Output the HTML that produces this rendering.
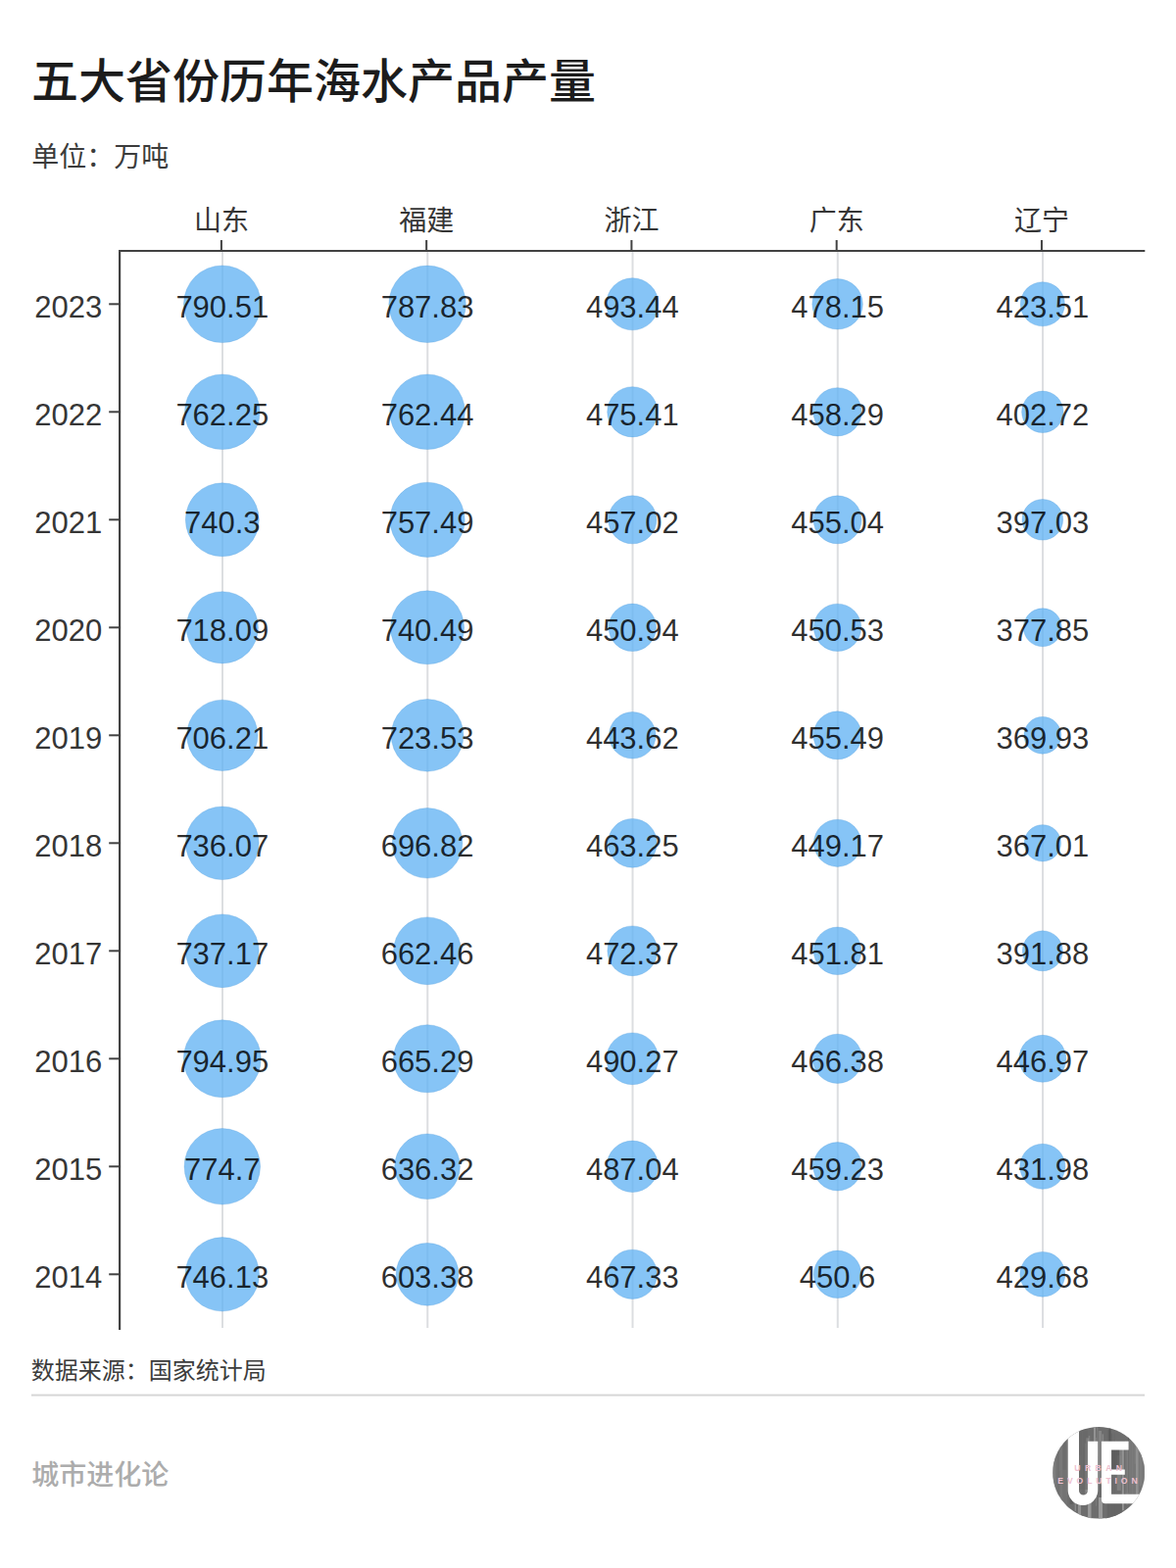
<!DOCTYPE html>
<html lang="zh-CN">
<head>
<meta charset="utf-8">
<title>五大省份历年海水产品产量</title>
<style>
html,body{margin:0;padding:0;background:#fff;}
body{width:1200px;height:1600px;overflow:hidden;font-family:"Liberation Sans",sans-serif;}
svg{display:block;}
svg text{font-family:"Liberation Sans","Noto Sans CJK SC",sans-serif;}
</style>
</head>
<body>
<svg width="1200" height="1600" viewBox="0 0 1200 1600" role="img" aria-label="五大省份历年海水产品产量">
<rect width="1200" height="1600" fill="#fff"/>
<text x="32" y="100.12" font-size="48" font-weight="500" fill="#1c1c1c">五大省份历年海水产品产量</text>
<text x="32.36" y="170.45" font-size="28" fill="#3c3c3c">单位：万吨</text>
<rect x="226" y="257" width="2" height="1098" fill="#dcdee1"/>
<rect x="435.26" y="257" width="2" height="1098" fill="#dcdee1"/>
<rect x="644.52" y="257" width="2" height="1098" fill="#dcdee1"/>
<rect x="853.78" y="257" width="2" height="1098" fill="#dcdee1"/>
<rect x="1063.04" y="257" width="2" height="1098" fill="#dcdee1"/>
<circle cx="226.8" cy="310.3" r="39.32" fill="#62b2f3" fill-opacity="0.77" stroke="#4a98dc" stroke-opacity="0.3" stroke-width="1"/>
<circle cx="436.06" cy="310.3" r="39.22" fill="#62b2f3" fill-opacity="0.77" stroke="#4a98dc" stroke-opacity="0.3" stroke-width="1"/>
<circle cx="645.32" cy="310.3" r="26.56" fill="#62b2f3" fill-opacity="0.77" stroke="#4a98dc" stroke-opacity="0.3" stroke-width="1"/>
<circle cx="854.58" cy="310.3" r="25.74" fill="#62b2f3" fill-opacity="0.77" stroke="#4a98dc" stroke-opacity="0.3" stroke-width="1"/>
<circle cx="1063.84" cy="310.3" r="22.54" fill="#62b2f3" fill-opacity="0.77" stroke="#4a98dc" stroke-opacity="0.3" stroke-width="1"/>
<circle cx="226.8" cy="420.3" r="38.29" fill="#62b2f3" fill-opacity="0.77" stroke="#4a98dc" stroke-opacity="0.3" stroke-width="1"/>
<circle cx="436.06" cy="420.3" r="38.3" fill="#62b2f3" fill-opacity="0.77" stroke="#4a98dc" stroke-opacity="0.3" stroke-width="1"/>
<circle cx="645.32" cy="420.3" r="25.59" fill="#62b2f3" fill-opacity="0.77" stroke="#4a98dc" stroke-opacity="0.3" stroke-width="1"/>
<circle cx="854.58" cy="420.3" r="24.62" fill="#62b2f3" fill-opacity="0.77" stroke="#4a98dc" stroke-opacity="0.3" stroke-width="1"/>
<circle cx="1063.84" cy="420.3" r="21.19" fill="#62b2f3" fill-opacity="0.77" stroke="#4a98dc" stroke-opacity="0.3" stroke-width="1"/>
<circle cx="226.8" cy="530.3" r="37.47" fill="#62b2f3" fill-opacity="0.77" stroke="#4a98dc" stroke-opacity="0.3" stroke-width="1"/>
<circle cx="436.06" cy="530.3" r="38.11" fill="#62b2f3" fill-opacity="0.77" stroke="#4a98dc" stroke-opacity="0.3" stroke-width="1"/>
<circle cx="645.32" cy="530.3" r="24.55" fill="#62b2f3" fill-opacity="0.77" stroke="#4a98dc" stroke-opacity="0.3" stroke-width="1"/>
<circle cx="854.58" cy="530.3" r="24.44" fill="#62b2f3" fill-opacity="0.77" stroke="#4a98dc" stroke-opacity="0.3" stroke-width="1"/>
<circle cx="1063.84" cy="530.3" r="20.81" fill="#62b2f3" fill-opacity="0.77" stroke="#4a98dc" stroke-opacity="0.3" stroke-width="1"/>
<circle cx="226.8" cy="640.3" r="36.62" fill="#62b2f3" fill-opacity="0.77" stroke="#4a98dc" stroke-opacity="0.3" stroke-width="1"/>
<circle cx="436.06" cy="640.3" r="37.48" fill="#62b2f3" fill-opacity="0.77" stroke="#4a98dc" stroke-opacity="0.3" stroke-width="1"/>
<circle cx="645.32" cy="640.3" r="24.2" fill="#62b2f3" fill-opacity="0.77" stroke="#4a98dc" stroke-opacity="0.3" stroke-width="1"/>
<circle cx="854.58" cy="640.3" r="24.17" fill="#62b2f3" fill-opacity="0.77" stroke="#4a98dc" stroke-opacity="0.3" stroke-width="1"/>
<circle cx="1063.84" cy="640.3" r="19.46" fill="#62b2f3" fill-opacity="0.77" stroke="#4a98dc" stroke-opacity="0.3" stroke-width="1"/>
<circle cx="226.8" cy="750.3" r="36.16" fill="#62b2f3" fill-opacity="0.77" stroke="#4a98dc" stroke-opacity="0.3" stroke-width="1"/>
<circle cx="436.06" cy="750.3" r="36.83" fill="#62b2f3" fill-opacity="0.77" stroke="#4a98dc" stroke-opacity="0.3" stroke-width="1"/>
<circle cx="645.32" cy="750.3" r="23.77" fill="#62b2f3" fill-opacity="0.77" stroke="#4a98dc" stroke-opacity="0.3" stroke-width="1"/>
<circle cx="854.58" cy="750.3" r="24.46" fill="#62b2f3" fill-opacity="0.77" stroke="#4a98dc" stroke-opacity="0.3" stroke-width="1"/>
<circle cx="1063.84" cy="750.3" r="18.88" fill="#62b2f3" fill-opacity="0.77" stroke="#4a98dc" stroke-opacity="0.3" stroke-width="1"/>
<circle cx="226.8" cy="860.3" r="37.31" fill="#62b2f3" fill-opacity="0.77" stroke="#4a98dc" stroke-opacity="0.3" stroke-width="1"/>
<circle cx="436.06" cy="860.3" r="35.79" fill="#62b2f3" fill-opacity="0.77" stroke="#4a98dc" stroke-opacity="0.3" stroke-width="1"/>
<circle cx="645.32" cy="860.3" r="24.91" fill="#62b2f3" fill-opacity="0.77" stroke="#4a98dc" stroke-opacity="0.3" stroke-width="1"/>
<circle cx="854.58" cy="860.3" r="24.09" fill="#62b2f3" fill-opacity="0.77" stroke="#4a98dc" stroke-opacity="0.3" stroke-width="1"/>
<circle cx="1063.84" cy="860.3" r="18.66" fill="#62b2f3" fill-opacity="0.77" stroke="#4a98dc" stroke-opacity="0.3" stroke-width="1"/>
<circle cx="226.8" cy="970.3" r="37.35" fill="#62b2f3" fill-opacity="0.77" stroke="#4a98dc" stroke-opacity="0.3" stroke-width="1"/>
<circle cx="436.06" cy="970.3" r="34.41" fill="#62b2f3" fill-opacity="0.77" stroke="#4a98dc" stroke-opacity="0.3" stroke-width="1"/>
<circle cx="645.32" cy="970.3" r="25.42" fill="#62b2f3" fill-opacity="0.77" stroke="#4a98dc" stroke-opacity="0.3" stroke-width="1"/>
<circle cx="854.58" cy="970.3" r="24.25" fill="#62b2f3" fill-opacity="0.77" stroke="#4a98dc" stroke-opacity="0.3" stroke-width="1"/>
<circle cx="1063.84" cy="970.3" r="20.46" fill="#62b2f3" fill-opacity="0.77" stroke="#4a98dc" stroke-opacity="0.3" stroke-width="1"/>
<circle cx="226.8" cy="1080.3" r="39.48" fill="#62b2f3" fill-opacity="0.77" stroke="#4a98dc" stroke-opacity="0.3" stroke-width="1"/>
<circle cx="436.06" cy="1080.3" r="34.52" fill="#62b2f3" fill-opacity="0.77" stroke="#4a98dc" stroke-opacity="0.3" stroke-width="1"/>
<circle cx="645.32" cy="1080.3" r="26.4" fill="#62b2f3" fill-opacity="0.77" stroke="#4a98dc" stroke-opacity="0.3" stroke-width="1"/>
<circle cx="854.58" cy="1080.3" r="25.08" fill="#62b2f3" fill-opacity="0.77" stroke="#4a98dc" stroke-opacity="0.3" stroke-width="1"/>
<circle cx="1063.84" cy="1080.3" r="23.96" fill="#62b2f3" fill-opacity="0.77" stroke="#4a98dc" stroke-opacity="0.3" stroke-width="1"/>
<circle cx="226.8" cy="1190.3" r="38.75" fill="#62b2f3" fill-opacity="0.77" stroke="#4a98dc" stroke-opacity="0.3" stroke-width="1"/>
<circle cx="436.06" cy="1190.3" r="33.31" fill="#62b2f3" fill-opacity="0.77" stroke="#4a98dc" stroke-opacity="0.3" stroke-width="1"/>
<circle cx="645.32" cy="1190.3" r="26.22" fill="#62b2f3" fill-opacity="0.77" stroke="#4a98dc" stroke-opacity="0.3" stroke-width="1"/>
<circle cx="854.58" cy="1190.3" r="24.68" fill="#62b2f3" fill-opacity="0.77" stroke="#4a98dc" stroke-opacity="0.3" stroke-width="1"/>
<circle cx="1063.84" cy="1190.3" r="23.06" fill="#62b2f3" fill-opacity="0.77" stroke="#4a98dc" stroke-opacity="0.3" stroke-width="1"/>
<circle cx="226.8" cy="1300.3" r="37.69" fill="#62b2f3" fill-opacity="0.77" stroke="#4a98dc" stroke-opacity="0.3" stroke-width="1"/>
<circle cx="436.06" cy="1300.3" r="31.89" fill="#62b2f3" fill-opacity="0.77" stroke="#4a98dc" stroke-opacity="0.3" stroke-width="1"/>
<circle cx="645.32" cy="1300.3" r="25.14" fill="#62b2f3" fill-opacity="0.77" stroke="#4a98dc" stroke-opacity="0.3" stroke-width="1"/>
<circle cx="854.58" cy="1300.3" r="24.18" fill="#62b2f3" fill-opacity="0.77" stroke="#4a98dc" stroke-opacity="0.3" stroke-width="1"/>
<circle cx="1063.84" cy="1300.3" r="22.92" fill="#62b2f3" fill-opacity="0.77" stroke="#4a98dc" stroke-opacity="0.3" stroke-width="1"/>
<rect x="121" y="255" width="1047.3" height="2" fill="#424242"/>
<rect x="121" y="255" width="2.2" height="1102" fill="#424242"/>
<rect x="224.9" y="245" width="2" height="10" fill="#424242"/>
<rect x="434.16" y="245" width="2" height="10" fill="#424242"/>
<rect x="643.42" y="245" width="2" height="10" fill="#424242"/>
<rect x="852.68" y="245" width="2" height="10" fill="#424242"/>
<rect x="1061.94" y="245" width="2" height="10" fill="#424242"/>
<rect x="111.2" y="309.3" width="10" height="2" fill="#424242"/>
<rect x="111.2" y="419.3" width="10" height="2" fill="#424242"/>
<rect x="111.2" y="529.3" width="10" height="2" fill="#424242"/>
<rect x="111.2" y="639.3" width="10" height="2" fill="#424242"/>
<rect x="111.2" y="749.3" width="10" height="2" fill="#424242"/>
<rect x="111.2" y="859.3" width="10" height="2" fill="#424242"/>
<rect x="111.2" y="969.3" width="10" height="2" fill="#424242"/>
<rect x="111.2" y="1079.3" width="10" height="2" fill="#424242"/>
<rect x="111.2" y="1189.3" width="10" height="2" fill="#424242"/>
<rect x="111.2" y="1299.3" width="10" height="2" fill="#424242"/>
<g fill="#363636" font-size="28" text-anchor="middle">
<text x="225.9" y="234.5">山东</text>
<text x="435.16" y="234.5">福建</text>
<text x="644.42" y="234.5">浙江</text>
<text x="853.68" y="234.5">广东</text>
<text x="1062.94" y="234.5">辽宁</text>
</g>
<g fill="#363636" font-size="31">
<text x="35.3" y="323.7">2023</text>
<text x="35.3" y="433.7">2022</text>
<text x="35.3" y="543.7">2021</text>
<text x="35.3" y="653.7">2020</text>
<text x="35.3" y="763.7">2019</text>
<text x="35.3" y="873.7">2018</text>
<text x="35.3" y="983.7">2017</text>
<text x="35.3" y="1093.7">2016</text>
<text x="35.3" y="1203.7">2015</text>
<text x="35.3" y="1313.7">2014</text>
</g>
<g fill="#000" fill-opacity="0.82" font-size="31" text-anchor="middle">
<text x="226.8" y="323.6">790.51</text>
<text x="436.06" y="323.6">787.83</text>
<text x="645.32" y="323.6">493.44</text>
<text x="854.58" y="323.6">478.15</text>
<text x="1063.84" y="323.6">423.51</text>
<text x="226.8" y="433.6">762.25</text>
<text x="436.06" y="433.6">762.44</text>
<text x="645.32" y="433.6">475.41</text>
<text x="854.58" y="433.6">458.29</text>
<text x="1063.84" y="433.6">402.72</text>
<text x="226.8" y="543.6">740.3</text>
<text x="436.06" y="543.6">757.49</text>
<text x="645.32" y="543.6">457.02</text>
<text x="854.58" y="543.6">455.04</text>
<text x="1063.84" y="543.6">397.03</text>
<text x="226.8" y="653.6">718.09</text>
<text x="436.06" y="653.6">740.49</text>
<text x="645.32" y="653.6">450.94</text>
<text x="854.58" y="653.6">450.53</text>
<text x="1063.84" y="653.6">377.85</text>
<text x="226.8" y="763.6">706.21</text>
<text x="436.06" y="763.6">723.53</text>
<text x="645.32" y="763.6">443.62</text>
<text x="854.58" y="763.6">455.49</text>
<text x="1063.84" y="763.6">369.93</text>
<text x="226.8" y="873.6">736.07</text>
<text x="436.06" y="873.6">696.82</text>
<text x="645.32" y="873.6">463.25</text>
<text x="854.58" y="873.6">449.17</text>
<text x="1063.84" y="873.6">367.01</text>
<text x="226.8" y="983.6">737.17</text>
<text x="436.06" y="983.6">662.46</text>
<text x="645.32" y="983.6">472.37</text>
<text x="854.58" y="983.6">451.81</text>
<text x="1063.84" y="983.6">391.88</text>
<text x="226.8" y="1093.6">794.95</text>
<text x="436.06" y="1093.6">665.29</text>
<text x="645.32" y="1093.6">490.27</text>
<text x="854.58" y="1093.6">466.38</text>
<text x="1063.84" y="1093.6">446.97</text>
<text x="226.8" y="1203.6">774.7</text>
<text x="436.06" y="1203.6">636.32</text>
<text x="645.32" y="1203.6">487.04</text>
<text x="854.58" y="1203.6">459.23</text>
<text x="1063.84" y="1203.6">431.98</text>
<text x="226.8" y="1313.6">746.13</text>
<text x="436.06" y="1313.6">603.38</text>
<text x="645.32" y="1313.6">467.33</text>
<text x="854.58" y="1313.6">450.6</text>
<text x="1063.84" y="1313.6">429.68</text>
</g>
<text x="31.79" y="1407.36" font-size="24" fill="#3c3c3c">数据来源：国家统计局</text>
<rect x="32" y="1422.6" width="1136" height="2" fill="#d6d6d6"/>
<text x="32.21" y="1515.32" font-size="28" font-weight="500" fill="#acacac">城市进化论</text>
<defs><clipPath id="lc"><circle cx="1121.15" cy="1502.8" r="46.9"/></clipPath></defs>
<g clip-path="url(#lc)" aria-label="UE Urban Evolution">
<rect x="1074.25" y="1455.9" width="93.8" height="93.8" fill="#6d6d6d"/>
<rect x="1074.25" y="1481.61" width="3" height="79.84" fill="#848484" opacity="0.68"/>
<rect x="1079.25" y="1480.02" width="1.5" height="60.35" fill="#626262" opacity="0.75"/>
<rect x="1080.75" y="1465" width="1" height="35.78" fill="#7c7c7c" opacity="0.82"/>
<rect x="1081.75" y="1475.52" width="2.5" height="69.27" fill="#7c7c7c" opacity="0.56"/>
<rect x="1084.25" y="1457.69" width="4" height="42.14" fill="#5e5e5e" opacity="0.6"/>
<rect x="1088.25" y="1469.12" width="3" height="83.75" fill="#707070" opacity="0.71"/>
<rect x="1091.75" y="1475.77" width="3" height="59.18" fill="#585858" opacity="0.61"/>
<rect x="1096.75" y="1463.52" width="1" height="78.36" fill="#a4a4a4" opacity="0.71"/>
<rect x="1097.75" y="1478.89" width="1" height="55.55" fill="#8e8e8e" opacity="0.84"/>
<rect x="1099.75" y="1481.32" width="1" height="30.03" fill="#585858" opacity="0.58"/>
<rect x="1100.75" y="1485.31" width="3" height="55.36" fill="#767676" opacity="0.53"/>
<rect x="1103.75" y="1458.51" width="1.5" height="51.22" fill="#707070" opacity="0.89"/>
<rect x="1105.25" y="1477.11" width="1" height="30.7" fill="#666666" opacity="0.69"/>
<rect x="1107.25" y="1472.68" width="1" height="58.55" fill="#989898" opacity="0.58"/>
<rect x="1108.25" y="1467.41" width="2.5" height="55.19" fill="#989898" opacity="0.9"/>
<rect x="1110.75" y="1465.02" width="1.5" height="86.45" fill="#8e8e8e" opacity="0.58"/>
<rect x="1113.25" y="1485.58" width="1" height="43.6" fill="#585858" opacity="0.6"/>
<rect x="1116.25" y="1467.49" width="2" height="34.74" fill="#6a6a6a" opacity="0.58"/>
<rect x="1118.25" y="1466.96" width="0.8" height="69.69" fill="#8e8e8e" opacity="0.55"/>
<rect x="1121.05" y="1459.97" width="3" height="54.63" fill="#8e8e8e" opacity="0.75"/>
<rect x="1124.55" y="1463.38" width="1.5" height="42.11" fill="#8e8e8e" opacity="0.8"/>
<rect x="1128.05" y="1484.4" width="1.5" height="86.28" fill="#989898" opacity="0.74"/>
<rect x="1130.55" y="1459.17" width="0.8" height="62.69" fill="#5e5e5e" opacity="0.6"/>
<rect x="1132.35" y="1480.61" width="1.5" height="68.05" fill="#767676" opacity="0.62"/>
<rect x="1133.85" y="1462.75" width="1" height="65.69" fill="#626262" opacity="0.84"/>
<rect x="1136.85" y="1462.27" width="1" height="88.37" fill="#6a6a6a" opacity="0.8"/>
<rect x="1137.85" y="1469.27" width="1.5" height="33.86" fill="#767676" opacity="0.57"/>
<rect x="1139.85" y="1485.09" width="4" height="35.88" fill="#8e8e8e" opacity="0.56"/>
<rect x="1144.85" y="1477.89" width="2" height="63.3" fill="#989898" opacity="0.88"/>
<rect x="1148.85" y="1470.14" width="0.8" height="52.81" fill="#585858" opacity="0.62"/>
<rect x="1149.65" y="1474.99" width="0.8" height="60.77" fill="#8e8e8e" opacity="0.79"/>
<rect x="1150.95" y="1458.16" width="1" height="64.84" fill="#5e5e5e" opacity="0.79"/>
<rect x="1151.95" y="1458.45" width="2" height="60.2" fill="#707070" opacity="0.53"/>
<rect x="1154.95" y="1473.08" width="0.8" height="69.87" fill="#7c7c7c" opacity="0.65"/>
<rect x="1157.75" y="1458.07" width="0.8" height="35.78" fill="#8e8e8e" opacity="0.55"/>
<rect x="1159.05" y="1465.8" width="2.5" height="89.61" fill="#a4a4a4" opacity="0.78"/>
<rect x="1162.55" y="1481.05" width="3" height="35.35" fill="#7c7c7c" opacity="0.8"/>
<rect x="1165.55" y="1458.53" width="1.5" height="31.42" fill="#8e8e8e" opacity="0.88"/>
<rect x="1167.05" y="1475.7" width="3" height="61.03" fill="#8e8e8e" opacity="0.86"/>
<rect x="1116" y="1456" width="2" height="40" fill="#9c9c9c" opacity="0.8"/>
<rect x="1119.3" y="1456" width="1" height="30" fill="#8c8c8c" opacity="0.7"/>
<rect x="1131.5" y="1456" width="2" height="45" fill="#525252" opacity="0.8"/>
<rect x="1134.1" y="1479.4" width="9" height="20" fill="#5a5a5a" opacity="0.75"/>
<rect x="1100" y="1532" width="3" height="20" fill="#9a9a9a" opacity="0.8"/>
<rect x="1110" y="1530" width="3.5" height="20" fill="#a2a2a2" opacity="0.8"/>
<rect x="1121" y="1528" width="4" height="22" fill="#a4a4a4" opacity="0.8"/>
<rect x="1128" y="1534" width="17" height="16" fill="#636363" opacity="0.7"/>
<rect x="1101.5" y="1458" width="8.5" height="62" fill="#666666" opacity="0.5"/>
<rect x="1148" y="1470" width="20" height="55" fill="#888888" opacity="0.4"/>
<rect x="1074" y="1470" width="15" height="65" fill="#7e7e7e" opacity="0.4"/>
<rect x="1142" y="1479" width="3" height="20" fill="#8a8a8a" opacity="0.6"/>
<path d="M1089.7 1445V1520.6A15.3 15.3 0 0 0 1120.3 1520.6V1470.8H1110V1521A4.5 4.5 0 0 1 1101 1521V1445Z" fill="#fff"/><path d="M1124 1470.8H1151.6V1479.4H1134.1V1499.6H1147.8V1504.7H1134.1V1524.8H1172V1534.3H1128Q1124 1534.3 1124 1530.3Z" fill="#fff"/>
</g>
<g fill="#eec0cf" font-size="8.6" font-weight="bold">
<text x="1096.34" y="1501.4" letter-spacing="4.4">URBAN</text>
<text x="1079.29" y="1513.9" letter-spacing="3.9">EVOLUTION</text>
</g>
</svg>
</body>
</html>
